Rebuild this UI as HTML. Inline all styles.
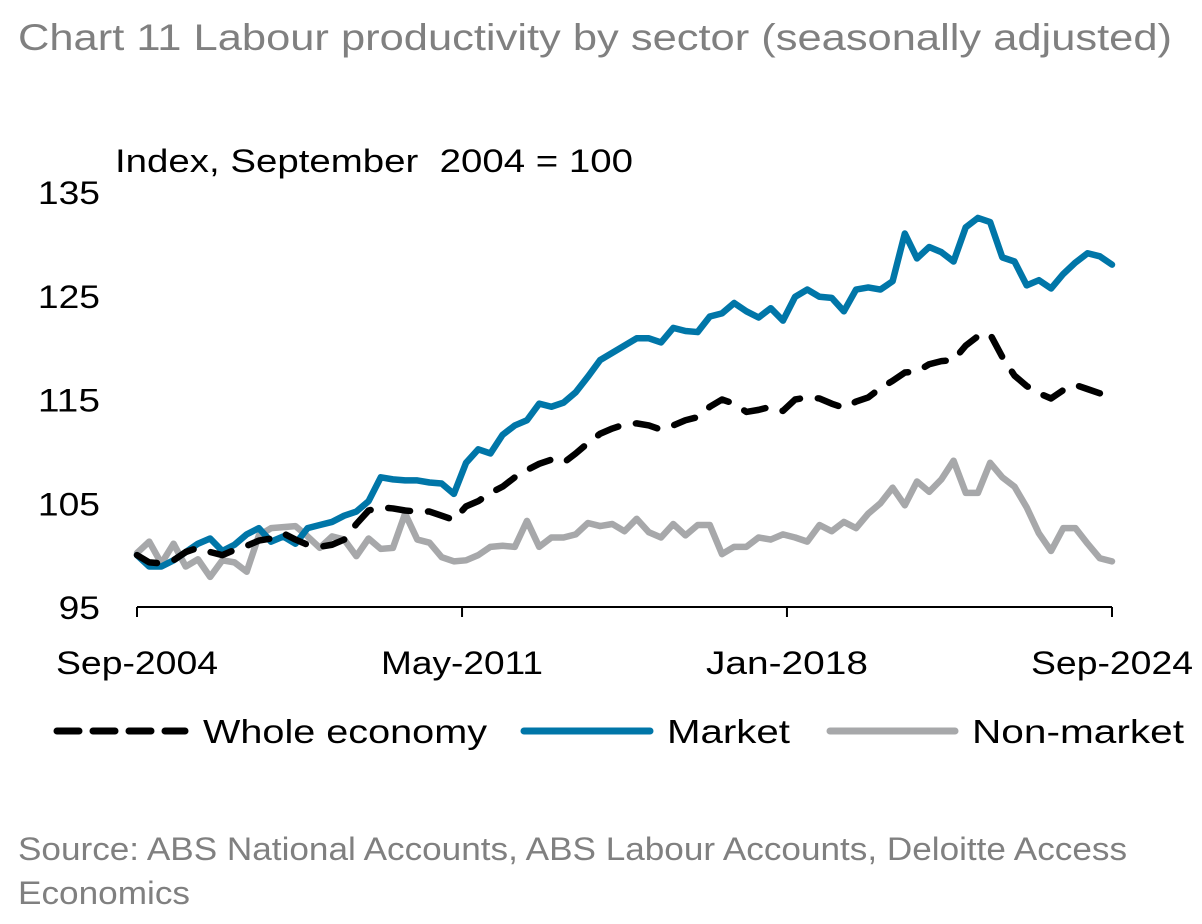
<!DOCTYPE html>
<html><head><meta charset="utf-8"><style>
body{margin:0;background:#fff;width:1202px;height:924px;overflow:hidden;font-family:"Liberation Sans",sans-serif}
svg{position:absolute;left:0;top:0}
</style></head><body>
<svg width="1202" height="924">
<text x="18" y="50" font-size="37" fill="#808080" textLength="1154" lengthAdjust="spacingAndGlyphs">Chart 11 Labour productivity by sector (seasonally adjusted)</text>
<text x="115" y="172" font-size="32" fill="#000" textLength="518" lengthAdjust="spacingAndGlyphs" xml:space="preserve">Index, September  2004 = 100</text>
<g id="yticks"></g>
<g id="xaxis"></g>
<g id="series"></g>
<g>
<line x1="57" y1="731" x2="185" y2="731" stroke="#000" stroke-width="7" stroke-dasharray="22,14" stroke-linecap="round"/>
<text x="203" y="743" font-size="33" textLength="284" lengthAdjust="spacingAndGlyphs">Whole economy</text>
<line x1="524" y1="731" x2="650" y2="731" stroke="#0076a8" stroke-width="7" stroke-linecap="round"/>
<text x="667" y="743" font-size="33" textLength="123" lengthAdjust="spacingAndGlyphs">Market</text>
<line x1="830" y1="731" x2="955" y2="731" stroke="#a7a8aa" stroke-width="7" stroke-linecap="round"/>
<text x="972" y="743" font-size="33" textLength="212" lengthAdjust="spacingAndGlyphs">Non-market</text>
</g>
<text x="18" y="860" font-size="32" fill="#808080" textLength="1109" lengthAdjust="spacingAndGlyphs">Source: ABS National Accounts, ABS Labour Accounts, Deloitte Access</text>
<text x="18" y="904" font-size="32" fill="#808080" textLength="172" lengthAdjust="spacingAndGlyphs">Economics</text>
</svg>
<script>
const yTicks=[95,105,115,125,135];
const xLabels=["Sep-2004","May-2011","Jan-2018","Sep-2024"];
const xLabelPos=[0,26.67,53.33,80];
const market=[100,98.9,98.9,99.5,100.3,101.1,101.6,100.4,101,102,102.6,101.3,101.8,101.1,102.6,102.9,103.2,103.8,104.2,105.2,107.5,107.3,107.2,107.2,107,106.9,105.9,108.9,110.2,109.8,111.6,112.5,113,114.6,114.3,114.7,115.7,117.2,118.8,119.5,120.2,120.9,120.9,120.5,121.9,121.6,121.5,123,123.3,124.3,123.5,122.9,123.8,122.6,124.9,125.6,124.9,124.8,123.5,125.6,125.8,125.6,126.4,131,128.6,129.7,129.2,128.3,131.6,132.5,132.1,128.7,128.3,126,126.5,125.7,127.1,128.2,129.1,128.8,128];
const whole=[100,99.3,99.2,99.5,100.3,100.7,100.3,100,100.5,100.9,101.4,101.6,102.1,101.5,101,100.8,101,101.5,103,104.3,104.6,104.5,104.3,104.2,104.2,103.8,103.4,104.7,105.2,106,106.6,107.5,108.2,108.8,109.2,108.9,109.8,110.8,111.7,112.2,112.6,112.7,112.5,112.1,112.5,113,113.3,114.3,115,114.6,113.8,114,114.3,113.9,115,115.2,115.1,114.6,114.2,114.8,115.2,116.1,116.8,117.6,117.7,118.4,118.7,118.8,120.2,121.1,121.3,119.1,117.3,116.3,115.6,115.1,115.9,116.4,116,115.6,115];
const nonMarket=[100.2,101.3,99.2,101.1,98.9,99.6,97.9,99.5,99.3,98.4,101.9,102.6,102.7,102.8,101.8,100.7,101.8,101.5,99.9,101.6,100.6,100.7,104,101.5,101.2,99.8,99.4,99.5,100,100.8,100.9,100.8,103.3,100.8,101.7,101.7,102,103.1,102.8,103,102.3,103.5,102.2,101.7,103,101.9,102.9,102.9,100.1,100.8,100.8,101.7,101.5,102,101.7,101.3,102.9,102.3,103.2,102.6,104,105,106.5,104.8,107.1,106.1,107.3,109.1,106,106,108.9,107.5,106.6,104.6,102.1,100.4,102.6,102.6,101.1,99.7,99.4];
const NS="http://www.w3.org/2000/svg";
const x=i=>137+i*(975/80);
const y=v=>607-(v-95)*10.375;
function mk(t,a,p){const e=document.createElementNS(NS,t);for(const k in a)e.setAttribute(k,a[k]);p.appendChild(e);return e;}
const yt=document.getElementById('yticks');
yTicks.forEach(v=>{const t=mk('text',{x:100,y:y(v)+12,'font-size':32,'text-anchor':'end',textLength:String(v).length*20.7,lengthAdjust:'spacingAndGlyphs'},yt);t.textContent=v;

});
const xa=document.getElementById('xaxis');
const ax=mk('line',{x1:137,y1:607,x2:1112,y2:607,stroke:'#000','stroke-width':2},xa);


xLabels.forEach((l,k)=>{const px=x(xLabelPos[k]);
const tk=mk('line',{x1:px,y1:607,x2:px,y2:617,stroke:'#000','stroke-width':2},xa);


const t=mk('text',{x:px,y:674,'font-size':32,'text-anchor':'middle',textLength:162,lengthAdjust:'spacingAndGlyphs'},xa);t.textContent=l;

});
const sg=document.getElementById('series');
function line(d,st,dash,name){const p=mk('polyline',{points:d.map((v,i)=>x(i)+','+y(v)).join(' '),fill:'none',stroke:st,'stroke-width':6.5,'stroke-linejoin':'round','stroke-linecap':'round'},sg);
if(dash)p.setAttribute('stroke-dasharray',dash);

}
line(nonMarket,'#a7a8aa',null,'non-market-line');
line(market,'#0076a8',null,'market-line');
line(whole,'#000','22,18','whole-economy-line');
</script>
</body></html>
